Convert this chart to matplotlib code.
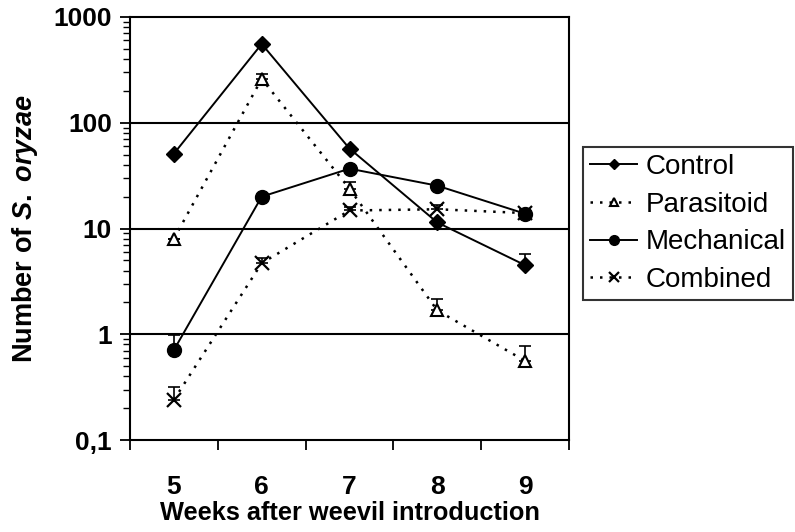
import matplotlib
matplotlib.use("Agg")
import matplotlib.pyplot as plt
import numpy as np
from matplotlib.ticker import FixedLocator, NullFormatter, LogLocator

plt.rcParams['font.family'] = ['Liberation Sans', 'DejaVu Sans']
plt.rcParams['mathtext.fontset'] = 'custom'
plt.rcParams['mathtext.it'] = 'Liberation Sans:bold:italic'
plt.rcParams['mathtext.rm'] = 'Liberation Sans:bold'

weeks = [5, 6, 7, 8, 9]
control = [51, 556, 57, 11.4, 4.5]
control_err = [0, 0, 0, 0, 1.3]
parasitoid = [8.0, 260, 23.8, 1.68, 0.56]
parasitoid_err = [0, 30, 3.5, 0.46, 0.21]
mechanical = [0.71, 20, 36.8, 25.4, 13.8]
mechanical_err = [0.28, 0, 0, 0, 0.8]
combined = [0.24, 4.7, 14.8, 15.2, 14.0]
combined_err = [0.08, 0.6, 1.3, 1.6, 0.8]
y_ticks = [0.1, 1, 10, 100, 1000]
y_ticklabels = ["0,1", "1", "10", "100", "1000"]

fig = plt.figure(figsize=(7.95, 5.32), dpi=100)
ax = fig.add_axes([130/795, 1-440/532, (569-130)/795, (440-17)/532])

lw = 1.4
dot = (0, (1, 2.8))
series = [
    ("Control", control, control_err, dict(marker='D', color='black', ls='-', lw=lw, ms=8, mfc='black')),
    ("Parasitoid", parasitoid, parasitoid_err, dict(marker='^', color='black', ls=dot, lw=1.8, ms=9, mfc='white', mew=1.5)),
    ("Mechanical", mechanical, mechanical_err, dict(marker='o', color='black', ls='-', lw=lw, ms=10, mfc='black')),
    ("Combined", combined, combined_err, dict(marker='x', color='black', ls=dot, lw=1.8, ms=10, mew=1.6)),
]
for label, vals, err, st in series:
    vals = np.array(vals, dtype=float)
    err = np.array(err, dtype=float)
    ax.errorbar(weeks, vals, yerr=[np.zeros_like(err), err], fmt='none',
                ecolor='black', elinewidth=1.2, capsize=4, capthick=1.2, zorder=2)
    ax.plot(weeks, vals, label=label, zorder=3, **st)

ax.set_yscale('log')
ax.set_ylim(0.1, 1000)
ax.set_xlim(4.5, 9.5)
for g in [1, 10, 100]:
    ax.axhline(g, color='black', lw=1.5, zorder=1)

ax.yaxis.set_major_locator(FixedLocator(y_ticks))
ax.set_yticklabels(y_ticklabels)
ax.yaxis.set_minor_locator(LogLocator(base=10, subs=np.arange(2, 10)))
ax.yaxis.set_minor_formatter(NullFormatter())

ax.xaxis.set_major_locator(FixedLocator(np.arange(4.5, 10, 1)))
ax.xaxis.set_major_formatter(NullFormatter())
ax.xaxis.set_minor_locator(FixedLocator(weeks))
ax.set_xticklabels([str(w) for w in weeks], minor=True)

ax.tick_params(axis='y', which='major', direction='out', length=7, width=1.3,
               labelsize=19, pad=6)
ax.tick_params(axis='y', which='minor', direction='out', length=5, width=1.0)
ax.tick_params(axis='x', which='major', direction='out', length=7, width=1.3)
ax.tick_params(axis='x', which='minor', length=0, labelsize=19, pad=25)
for lab in ax.get_yticklabels() + ax.get_xticklabels(minor=True):
    lab.set_fontweight('bold')

for s in ax.spines.values():
    s.set_linewidth(1.5)

ax.set_xlabel("Weeks after weevil introduction", fontsize=18.3, fontweight='bold', labelpad=2)
ax.set_ylabel(r"Number of $\mathit{S.\ oryzae}$", fontsize=19.5, fontweight='bold', labelpad=10)

handles, labels = ax.get_legend_handles_labels()
leg = fig.legend(handles, labels, loc='upper left', bbox_to_anchor=(583/795, 1-147/532),
                 fontsize=20, frameon=True, fancybox=False, edgecolor='black',
                 handlelength=1.7, handletextpad=0.3, labelspacing=0.42,
                 borderpad=0.25, borderaxespad=0, markerscale=0.7)
leg.get_frame().set_linewidth(1.5)

fig.savefig("out.png", dpi=100)
